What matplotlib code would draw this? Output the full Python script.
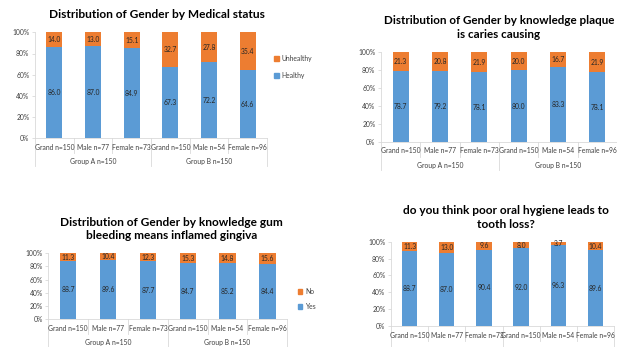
import matplotlib
matplotlib.use("Agg")
import matplotlib.pyplot as plt
from matplotlib.patches import Patch

plt.rcParams['font.family'] = ['Lato', 'DejaVu Sans']

# ---------------- data ----------------
categories = ["Grand n=150", "Male n=77", "Female n=73",
              "Grand n=150", "Male n=54", "Female n=96"]
groups = ["Group A n=150", "Group B n=150"]
yticks = [0, 20, 40, 60, 80, 100]
ytick_labels = ["0%", "20%", "40%", "60%", "80%", "100%"]

medical_healthy = [86.0, 87.0, 84.9, 67.3, 72.2, 64.6]
medical_unhealthy = [14.0, 13.0, 15.1, 32.7, 27.8, 35.4]

plaque_yes = [78.7, 79.2, 78.1, 80.0, 83.3, 78.1]
plaque_no = [21.3, 20.8, 21.9, 20.0, 16.7, 21.9]

gum_yes = [88.7, 89.6, 87.7, 84.7, 85.2, 84.4]
gum_no = [11.3, 10.4, 12.3, 15.3, 14.8, 15.6]

loss_yes = [88.7, 87.0, 90.4, 92.0, 96.3, 89.6]
loss_no = [11.3, 13.0, 9.6, 8.0, 3.7, 10.4]

BLUE = "#5B9BD5"
ORANGE = "#ED7D31"
TXT = "#404040"
LAB = "#262626"
GRID = "#D9D9D9"

W, H = 617, 347
fig = plt.figure(figsize=(W / 100, H / 100), dpi=100)
fig.patch.set_facecolor("white")


def px_axes(left, top, right, bottom):
    return fig.add_axes([left / W, 1 - bottom / H, (right - left) / W, (bottom - top) / H])


def draw(rect, title, title_xy, bottom_vals, top_vals, labels, legend_xy,
         tick_y, group_y, inner_len, outer_len, fs=4.9, tfs=8.6, ls=1.25):
    left, top, right, bottom = rect
    ax = px_axes(left, top, right, bottom)
    hpx = bottom - top
    x = list(range(len(categories)))
    ax.bar(x, bottom_vals, width=0.41, color=BLUE, label=labels[0], zorder=2)
    ax.bar(x, top_vals, width=0.41, bottom=bottom_vals, color=ORANGE,
           label=labels[1], zorder=2)
    for i in x:
        ax.text(i, bottom_vals[i] / 2, f"{bottom_vals[i]:.1f}", ha="center",
                va="center", fontsize=fs, color=LAB, zorder=3)
        ax.text(i, bottom_vals[i] + top_vals[i] / 2, f"{top_vals[i]:.1f}",
                ha="center", va="center", fontsize=fs, color=LAB, zorder=3)
    ax.set_xlim(-0.5, len(categories) - 0.5)
    ax.set_ylim(0, 100)
    ax.set_yticks(yticks)
    ax.set_yticklabels(ytick_labels, fontsize=fs, color=TXT)
    ax.tick_params(axis="y", length=2.5, width=0.6, color=GRID, pad=1.5)
    ax.set_xticks([])
    for s in ["top", "right"]:
        ax.spines[s].set_visible(False)
    ax.spines["left"].set_color(GRID)
    ax.spines["left"].set_linewidth(0.6)
    ax.spines["bottom"].set_color(GRID)
    ax.spines["bottom"].set_linewidth(0.6)
    tr = ax.get_xaxis_transform()
    # category labels
    for i, c in enumerate(categories):
        ax.text(i, -(tick_y - bottom) / hpx, c, transform=tr, ha="center",
                va="center", fontsize=fs, color=TXT, clip_on=False)
    if group_y is not None:
        for g, gname in enumerate(groups):
            ax.text(g * 3 + 1, -(group_y - bottom) / hpx, gname, transform=tr,
                    ha="center", va="center", fontsize=fs, color=TXT,
                    clip_on=False)
    # separators
    for k in range(len(categories) + 1):
        xx = k - 0.5
        ln = outer_len if k % 3 == 0 else inner_len
        ax.plot([xx, xx], [0, -ln / hpx], transform=tr, color=GRID, lw=0.6,
                clip_on=False)
    # title
    fig.text(title_xy[0] / W, 1 - title_xy[1] / H, title, ha="center",
             va="center", fontsize=tfs, fontweight="bold", color="black",
             linespacing=ls)
    if legend_xy is not None:
        handles = [Patch(color=ORANGE, label=labels[1]),
                   Patch(color=BLUE, label=labels[0])]
        ax.legend(handles=handles, loc="upper left",
                  bbox_to_anchor=(legend_xy[0] / W, 1 - legend_xy[1] / H),
                  bbox_transform=fig.transFigure, frameon=False, fontsize=fs,
                  handlelength=0.7, handleheight=0.7, handletextpad=0.4,
                  labelspacing=legend_xy[2], borderpad=0, borderaxespad=0,
                  labelcolor=TXT)
    return ax


draw((35, 32.3, 267, 138.3), "Distribution of Gender by Medical status", (157, 15),
     medical_healthy, medical_unhealthy, ["Healthy", "Unhealthy"], (274, 55, 1.5),
     tick_y=147.7, group_y=161.7, inner_len=15, outer_len=28)

draw((381, 52.3, 617, 142.3), "Distribution of Gender by knowledge plaque\nis caries causing",
     (499, 27.5), plaque_yes, plaque_no, ["Yes", "No"], None,
     tick_y=151, group_y=166, inner_len=15, outer_len=28, tfs=8.4)

draw((48.3, 253.3, 287.3, 319), "Distribution of Gender by knowledge gum\nbleeding means inflamed gingiva",
     (171.5, 229), gum_yes, gum_no, ["Yes", "No"], (297.5, 288, 1.2),
     tick_y=328.3, group_y=342.7, inner_len=15, outer_len=30)

draw((391, 241.7, 614, 326), "do you think poor oral hygiene leads to\ntooth loss?",
     (506, 217.7), loss_yes, loss_no, ["Yes", "No"], None,
     tick_y=336, group_y=None, inner_len=15, outer_len=30, ls=1.4)

fig.savefig("out.png", dpi=100, facecolor="white")
